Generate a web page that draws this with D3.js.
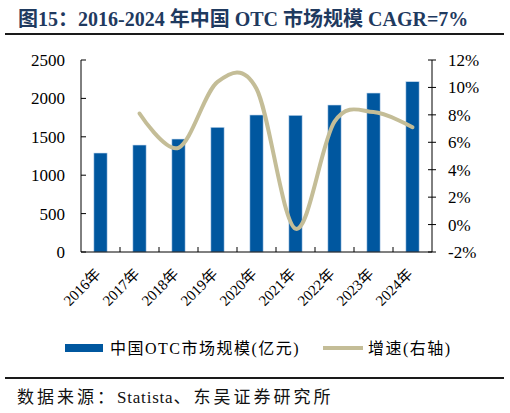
<!DOCTYPE html>
<html>
<head>
<meta charset="utf-8">
<script src="https://cdn.jsdelivr.net/npm/d3@7"></script>
<style>
  body { margin: 0; background: #fff; }
  text { font-family: "Liberation Serif", "Noto Sans CJK SC", serif; }
</style>
</head>
<body>
<div id="chart"></div>
<script>
// data
const years = ['2016年', '2017年', '2018年', '2019年', '2020年', '2021年', '2022年', '2023年', '2024年'];
const marketSize = [1289, 1393, 1471, 1624, 1784, 1780, 1914, 2070, 2218];
const growth = [null, 8.1, 5.6, 10.4, 9.9, -0.3, 7.5, 8.2, 7.1];
const leftTicks = [0, 500, 1000, 1500, 2000, 2500];
const rightTicks = [-2, 0, 2, 4, 6, 8, 10, 12];

const width = 510;
const height = 413;
const plot = { left: 81, right: 432, top: 60, bottom: 252 };

const barColor = '#00579f';
const lineColor = '#c4bd97';

const svg = d3.select('#chart')
    .append('svg')
    .attr('width', width)
    .attr('height', height);

// Title and rules
svg.append('text')
    .attr('x', 18)
    .attr('y', 26)
    .attr('font-size', '20px')
    .attr('font-weight', 'bold')
    .attr('fill', '#1f3a5f')
    .text('图15：2016-2024 年中国 OTC 市场规模 CAGR=7%');

svg.append('line')
    .attr('x1', 5).attr('x2', 504)
    .attr('y1', 34).attr('y2', 34)
    .attr('stroke', '#1a1a1a')
    .attr('stroke-width', 2);

svg.append('line')
    .attr('x1', 5).attr('x2', 504)
    .attr('y1', 378).attr('y2', 378)
    .attr('stroke', '#1a1a1a')
    .attr('stroke-width', 2);

// Source line: Chinese spaced out, Latin kept tight
const source = svg.append('text')
    .attr('x', 17)
    .attr('y', 403)
    .attr('font-size', '17px')
    .attr('fill', '#111');
source.append('tspan').attr('letter-spacing', '3px').text('数据来源：');
source.append('tspan').attr('letter-spacing', '0.8px').text('Statista');
source.append('tspan').attr('letter-spacing', '3px').text('、东吴证券研究所');

// Scales
const x = d3.scaleBand()
    .domain(years)
    .range([plot.left, plot.right]);

const yLeft = d3.scaleLinear()
    .domain([0, 2500])
    .range([plot.bottom, plot.top]);

const yRight = d3.scaleLinear()
    .domain([-2, 12])
    .range([plot.bottom, plot.top]);

const barWidth = x.bandwidth() * 0.34;

// Bars
svg.selectAll('rect.bar')
    .data(marketSize)
    .enter()
    .append('rect')
    .attr('class', 'bar')
    .attr('x', (d, i) => x(years[i]) + (x.bandwidth() - barWidth) / 2)
    .attr('y', d => yLeft(d))
    .attr('width', barWidth)
    .attr('height', d => plot.bottom - yLeft(d))
    .attr('fill', barColor)
    .attr('stroke', '#c9dcf0')
    .attr('stroke-width', 0.6);

// Left axis
const leftAxis = svg.append('g');
leftAxis.append('line')
    .attr('x1', plot.left).attr('x2', plot.left)
    .attr('y1', plot.top).attr('y2', plot.bottom)
    .attr('stroke', '#000');
leftAxis.selectAll('line.tick')
    .data(leftTicks)
    .enter()
    .append('line')
    .attr('class', 'tick')
    .attr('x1', plot.left).attr('x2', plot.left + 5)
    .attr('y1', d => yLeft(d)).attr('y2', d => yLeft(d))
    .attr('stroke', '#000');
leftAxis.selectAll('text')
    .data(leftTicks)
    .enter()
    .append('text')
    .attr('x', 65)
    .attr('y', d => yLeft(d))
    .attr('dy', '0.35em')
    .attr('text-anchor', 'end')
    .attr('font-size', '17px')
    .text(d => d);

// Right axis
const rightAxis = svg.append('g');
rightAxis.append('line')
    .attr('x1', plot.right).attr('x2', plot.right)
    .attr('y1', plot.top).attr('y2', plot.bottom)
    .attr('stroke', '#000');
rightAxis.selectAll('line.tick')
    .data(rightTicks)
    .enter()
    .append('line')
    .attr('class', 'tick')
    .attr('x1', plot.right - 4).attr('x2', plot.right + 4)
    .attr('y1', d => yRight(d)).attr('y2', d => yRight(d))
    .attr('stroke', '#000');
rightAxis.selectAll('text')
    .data(rightTicks)
    .enter()
    .append('text')
    .attr('x', 448)
    .attr('y', d => yRight(d))
    .attr('dy', '0.35em')
    .attr('font-size', '17px')
    .text(d => d + '%');

// Bottom axis
const bottomAxis = svg.append('g');
bottomAxis.append('line')
    .attr('x1', plot.left).attr('x2', plot.right)
    .attr('y1', plot.bottom).attr('y2', plot.bottom)
    .attr('stroke', '#000');
bottomAxis.selectAll('line.tick')
    .data(years.slice(1))
    .enter()
    .append('line')
    .attr('class', 'tick')
    .attr('x1', d => x(d)).attr('x2', d => x(d))
    .attr('y1', plot.bottom).attr('y2', plot.bottom - 5)
    .attr('stroke', '#000');
bottomAxis.selectAll('text')
    .data(years)
    .enter()
    .append('text')
    .attr('transform', d => `translate(${x(d) + x.bandwidth() / 2 + 1},${plot.bottom + 23}) rotate(-45)`)
    .attr('text-anchor', 'end')
    .attr('font-size', '15px')
    .text(d => d);

// Growth line (smoothed)
const line = d3.line()
    .defined(d => d != null)
    .x((d, i) => x(years[i]) + x.bandwidth() / 2)
    .y(d => yRight(d))
    .curve(d3.curveCatmullRom.alpha(0));

svg.append('path')
    .datum(growth)
    .attr('d', line)
    .attr('fill', 'none')
    .attr('stroke', lineColor)
    .attr('stroke-width', 4)
    .attr('stroke-linecap', 'round');

// Legend
const legend = svg.append('g');
legend.append('rect')
    .attr('x', 65).attr('y', 344)
    .attr('width', 38).attr('height', 8)
    .attr('fill', barColor);
legend.append('text')
    .attr('x', 110).attr('y', 348)
    .attr('dy', '0.35em')
    .attr('font-size', '16px')
    .attr('letter-spacing', '1.5px')
    .text('中国OTC市场规模(亿元)');
legend.append('line')
    .attr('x1', 323).attr('x2', 363)
    .attr('y1', 348).attr('y2', 348)
    .attr('stroke', lineColor)
    .attr('stroke-width', 4);
legend.append('text')
    .attr('x', 368).attr('y', 348)
    .attr('dy', '0.35em')
    .attr('font-size', '16px')
    .attr('letter-spacing', '1.5px')
    .text('增速(右轴)');
</script>
</body>
</html>
